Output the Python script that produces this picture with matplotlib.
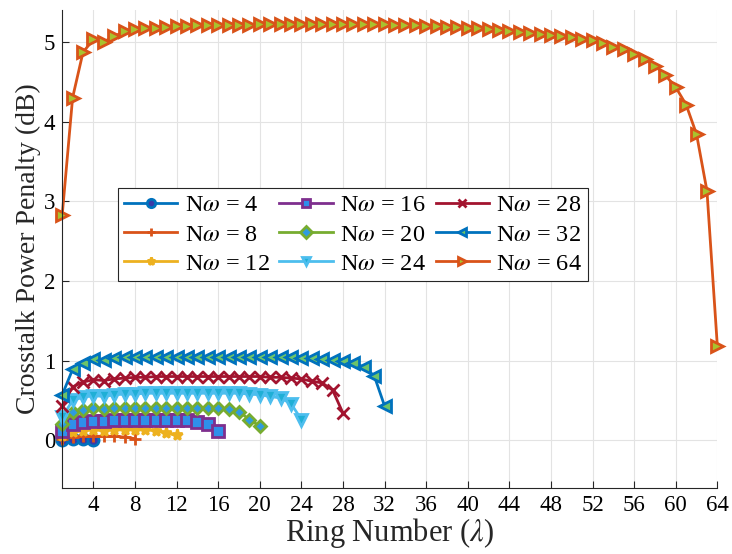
import matplotlib
matplotlib.use("Agg")
import matplotlib.pyplot as plt
import numpy as np

plt.rcParams["font.family"] = ["Liberation Serif", "DejaVu Serif"]
plt.rcParams["mathtext.fontset"] = "stix"

# channel counts and crosstalk penalty (dB) per ring
n_values = [4, 8, 12, 16, 20, 24, 28, 32, 64]

p4 = [0.00, 0.01, 0.01, 0.00]
p8 = [0.02, 0.04, 0.05, 0.05, 0.05, 0.05, 0.04, 0.02]
p12 = [0.05, 0.10, 0.12, 0.13, 0.12, 0.13, 0.13, 0.13, 0.13, 0.12, 0.09, 0.06]
p16 = [0.12, 0.21, 0.23, 0.24, 0.24, 0.25, 0.25, 0.25, 0.25, 0.25, 0.25, 0.25,
       0.25, 0.23, 0.20, 0.11]
p20 = [0.20, 0.35, 0.38, 0.40, 0.39, 0.40, 0.41, 0.41, 0.41, 0.41, 0.41, 0.41,
       0.41, 0.41, 0.41, 0.40, 0.39, 0.36, 0.26, 0.18]
p24 = [0.29, 0.50, 0.54, 0.56, 0.55, 0.57, 0.58, 0.58, 0.59, 0.59, 0.59, 0.59,
       0.59, 0.59, 0.59, 0.59, 0.59, 0.59, 0.58, 0.57, 0.55, 0.53, 0.46, 0.26]
p28 = [0.43, 0.67, 0.73, 0.76, 0.75, 0.77, 0.78, 0.79, 0.79, 0.80, 0.80, 0.80,
       0.80, 0.80, 0.80, 0.80, 0.80, 0.80, 0.80, 0.80, 0.79, 0.79, 0.78, 0.77,
       0.74, 0.72, 0.63, 0.34]
p32 = [0.57, 0.89, 0.97, 1.02, 1.01, 1.03, 1.04, 1.04, 1.05, 1.05, 1.05, 1.05,
       1.05, 1.05, 1.05, 1.05, 1.05, 1.05, 1.05, 1.05, 1.04, 1.04, 1.04, 1.03,
       1.03, 1.02, 1.01, 1.00, 0.97, 0.92, 0.81, 0.43]
p64 = [2.83, 4.30, 4.87, 5.03, 5.00, 5.07, 5.13, 5.16, 5.17, 5.18, 5.19, 5.20,
       5.20, 5.21, 5.21, 5.21, 5.21, 5.21, 5.21, 5.22, 5.22, 5.22, 5.22, 5.22,
       5.22, 5.22, 5.22, 5.22, 5.22, 5.22, 5.22, 5.22, 5.21, 5.21, 5.21, 5.20,
       5.20, 5.19, 5.19, 5.18, 5.17, 5.16, 5.15, 5.14, 5.12, 5.11, 5.10, 5.09,
       5.07, 5.06, 5.04, 5.02, 4.98, 4.94, 4.91, 4.85, 4.79, 4.70, 4.58, 4.43,
       4.21, 3.84, 3.13, 1.18]

penalties = [p4, p8, p12, p16, p20, p24, p28, p32, p64]

styles = [
    dict(color="#0072BD", marker="o", mfc="#3A3AA8", mec="#0072BD"),
    dict(color="#D95319", marker="+", mfc="#D95319", mec="#D95319"),
    dict(color="#EDB120", marker="*", mfc="#EDB120", mec="#EDB120"),
    dict(color="#7E2F8E", marker="s", mfc="#2F8FEA", mec="#7E2F8E"),
    dict(color="#77AC30", marker="D", mfc="#2E9BE0", mec="#77AC30"),
    dict(color="#4DBEEE", marker="v", mfc="#1FAFD6", mec="#4DBEEE"),
    dict(color="#A2142F", marker="x", mfc="#A2142F", mec="#A2142F"),
    dict(color="#0072BD", marker="<", mfc="#6CC46A", mec="#0072BD"),
    dict(color="#D95319", marker=">", mfc="#A9C22E", mec="#D95319"),
]

fig = plt.figure(figsize=(7.32, 5.54), dpi=100)
ax = fig.add_axes([0.085, 0.119, 0.895, 0.863])

for n, p, st in zip(n_values, penalties, styles):
    x = np.arange(1, len(p) + 1)
    ms = 6 if st["marker"] == "D" else 8
    ax.plot(x, p, color=st["color"], marker=st["marker"], markerfacecolor=st["mfc"],
            markeredgecolor=st["mec"], markersize=ms, markeredgewidth=2, linewidth=2,
            label=r"N$\omega$ = %d" % n, clip_on=False)

ax.set_xlim(1, 64)
ax.set_ylim(-0.6, 5.4)
ax.set_xticks(np.arange(4, 65, 4))
ax.set_yticks(np.arange(0, 6, 1))
ax.tick_params(direction="in", labelsize=16.5, length=5, color="#262626", pad=5)
ax.grid(True, color="#e3e3e3", linewidth=0.8)
ax.set_axisbelow(True)
for s in ["top", "right"]:
    ax.spines[s].set_visible(False)
for s in ["left", "bottom"]:
    ax.spines[s].set_color("#262626")
    ax.spines[s].set_linewidth(0.8)

ax.set_xlabel(r"Ring Number ($\lambda$)", fontsize=22, labelpad=0, color="#262626")
ax.set_ylabel("Crosstalk Power Penalty (dB)", fontsize=20, labelpad=2, color="#262626")

leg = ax.legend(ncol=3, loc="lower left", bbox_to_anchor=(0.085, 0.433), fontsize=17.5,
                fancybox=False, edgecolor="#262626", framealpha=1, handlelength=2.2,
                columnspacing=0.4, handletextpad=0.3, labelspacing=0.3, borderpad=0.25,
                borderaxespad=0)
leg.get_frame().set_linewidth(0.8)
for h in leg.legend_handles:
    h.set_markersize(6)

fig.savefig("out.png", dpi=100)
